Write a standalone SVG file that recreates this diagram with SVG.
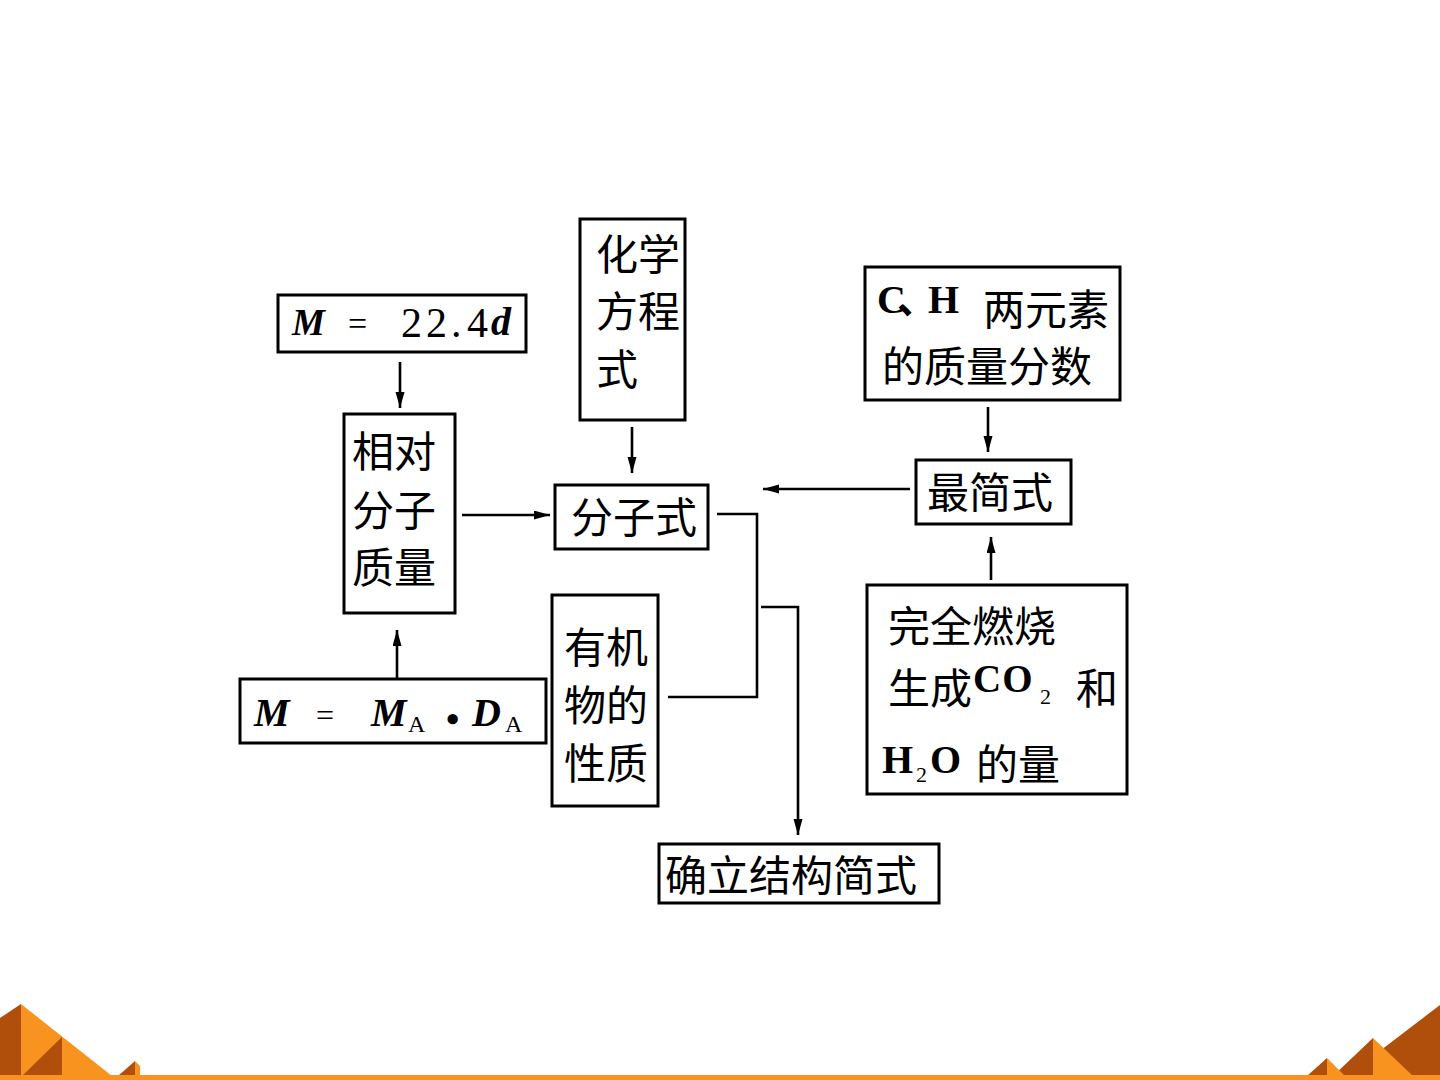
<svg xmlns="http://www.w3.org/2000/svg" width="1440" height="1080" viewBox="0 0 1440 1080">
<style>
.box{fill:#fff;stroke:#000;stroke-width:3}
.cn{font-family:"Noto Sans CJK SC","Liberation Serif",serif;font-size:42px;fill:#000;dominant-baseline:central}
.lat{font-family:"Liberation Serif","Noto Sans CJK SC",serif;fill:#000}
.bi{font-weight:bold;font-style:italic}
.b{font-weight:bold}
.conn{fill:none;stroke:#000;stroke-width:2.6}
.dk{fill:#B04E0C}
.or{fill:#F7931E}
</style>
<defs>
<marker id="ah" markerUnits="userSpaceOnUse" markerWidth="18" markerHeight="10" refX="16" refY="4.5" orient="auto">
<path d="M0,0 L16,4.5 L0,9 z" fill="#000"/>
</marker>
</defs>
<rect width="1440" height="1080" fill="#fff"/>

<g id="decor">
<polygon class="dk" points="0,1018 21,1004 21,1076 0,1076"/>
<polygon class="or" points="21,1004 112,1076 21,1076"/>
<polygon class="dk" points="22,1076 62,1037 62,1076"/>
<polygon class="dk" points="118,1076 135,1061 135,1076"/>
<polygon class="or" points="135,1061 140,1066 140,1076 135,1076"/>
<polygon class="dk" points="1440,1005 1440,1076 1347,1076"/>
<polygon class="dk" points="1333,1076 1373,1038 1373,1076"/>
<polygon class="or" points="1373,1038 1413,1076 1373,1076"/>
<polygon class="dk" points="1307,1076 1327,1058 1327,1076"/>
<polygon class="or" points="1327,1058 1345,1076 1327,1076"/>
<rect class="or" x="0" y="1075" width="1440" height="5"/>
</g>

<g id="connectors">
<line class="conn" x1="400" y1="362" x2="400" y2="408" marker-end="url(#ah)"/>
<line class="conn" x1="397" y1="678" x2="397" y2="630" marker-end="url(#ah)"/>
<line class="conn" x1="462" y1="515" x2="550" y2="515" marker-end="url(#ah)"/>
<line class="conn" x1="632" y1="427" x2="632" y2="473" marker-end="url(#ah)"/>
<line class="conn" x1="910" y1="489" x2="763" y2="489" marker-end="url(#ah)"/>
<line class="conn" x1="988" y1="407" x2="988" y2="452" marker-end="url(#ah)"/>
<line class="conn" x1="991" y1="580" x2="991" y2="537" marker-end="url(#ah)"/>
<polyline class="conn" points="717,514 757,514 757,697 668,697"/>
<polyline class="conn" points="761,607 798,607 798,835" marker-end="url(#ah)"/>
</g>

<g id="n-m224d">
<rect class="box" x="278" y="295" width="248" height="57"/>
<text class="lat bi" x="292" y="335" font-size="37">M</text>
<text class="lat" x="348" y="335" font-size="34">=</text>
<text class="lat" x="401" y="337" font-size="42" letter-spacing="4">22.</text>
<text class="lat" x="467" y="337" font-size="42">4</text>
<text class="lat bi" x="491" y="335" font-size="40">d</text>
</g>

<g id="n-relmass">
<rect class="box" x="344" y="414" width="111" height="199"/>
<text class="cn" x="352" y="448">相对</text>
<text class="cn" x="352" y="507">分子</text>
<text class="cn" x="352" y="564">质量</text>
</g>

<g id="n-mmada">
<rect class="box" x="240" y="679" width="306" height="64"/>
<text class="lat bi" x="254" y="726" font-size="40">M</text>
<text class="lat" x="316" y="726" font-size="32">=</text>
<text class="lat bi" x="371" y="726" font-size="40">M</text>
<text class="lat" x="408" y="732" font-size="24">A</text>
<text class="lat b" x="446" y="732" font-size="38">•</text>
<text class="lat bi" x="472" y="726" font-size="40">D</text>
<text class="lat" x="505" y="732" font-size="24">A</text>
</g>

<g id="n-chem">
<rect class="box" x="580" y="219" width="105" height="201"/>
<text class="cn" x="596" y="251">化学</text>
<text class="cn" x="596" y="308">方程</text>
<text class="cn" x="596" y="366">式</text>
</g>

<g id="n-formula">
<rect class="box" x="555" y="485" width="153" height="64"/>
<text class="cn" x="571" y="514">分子式</text>
</g>

<g id="n-props">
<rect class="box" x="552" y="595" width="106" height="211"/>
<text class="cn" x="564" y="644">有机</text>
<text class="cn" x="564" y="702">物的</text>
<text class="cn" x="564" y="760">性质</text>
</g>

<g id="n-simplest">
<rect class="box" x="916" y="460" width="155" height="64"/>
<text class="cn" x="927" y="489">最简式</text>
</g>

<g id="n-massfrac">
<rect class="box" x="865" y="267" width="255" height="133"/>
<text class="lat b" x="877" y="313" font-size="40" letter-spacing="-9">C、H</text>
<text class="cn" x="983" y="306">两元素</text>
<text class="cn" x="882" y="363">的质量分数</text>
</g>

<g id="n-combust">
<rect class="box" x="867" y="585" width="260" height="209"/>
<text class="cn" x="888" y="623">完全燃烧</text>
<text class="cn" x="888" y="685">生成</text>
<text class="lat b" x="973" y="692" font-size="39" letter-spacing="1">CO</text>
<text class="lat" x="1040" y="704" font-size="22">2</text>
<text class="cn" x="1076" y="685">和</text>
<text class="lat b" x="882" y="773" font-size="40">H</text>
<text class="lat" x="916" y="782" font-size="22">2</text>
<text class="lat b" x="930" y="773" font-size="40">O</text>
<text class="cn" x="976" y="761">的量</text>
</g>

<g id="n-structure">
<rect class="box" x="659" y="844" width="280" height="59"/>
<text class="cn" x="665" y="872">确立结构简式</text>
</g>
</svg>
